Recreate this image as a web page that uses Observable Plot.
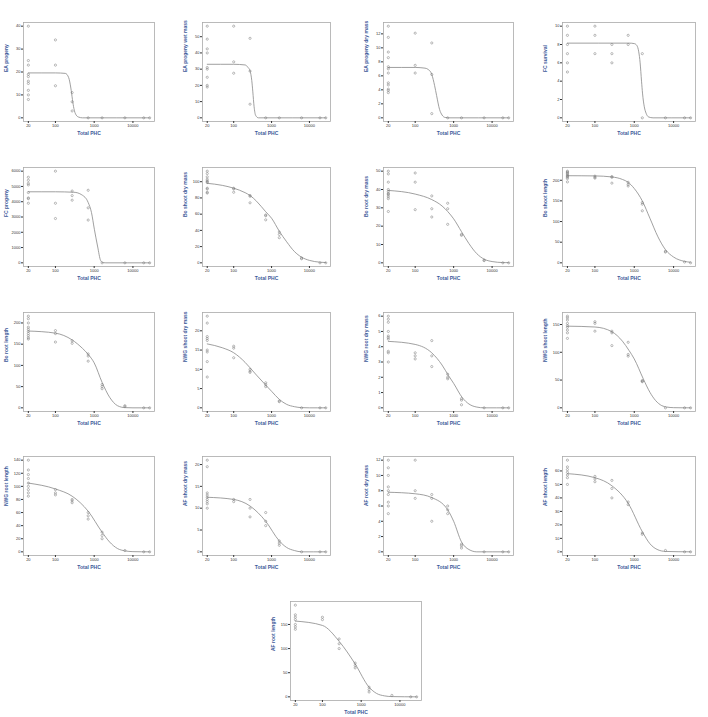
<!DOCTYPE html>
<html><head><meta charset="utf-8">
<script src="https://cdn.jsdelivr.net/npm/d3@7"></script>
<script src="https://cdn.jsdelivr.net/npm/@observablehq/plot@0.6"></script>
<style>
body{margin:0;background:#fff}
#wrap{position:relative;width:708px;height:717px;overflow:hidden;background:#fff}
</style></head>
<body><div id="wrap"></div>
<script>
// concentration levels (Total PHC) at which observations were made
const concLevels = [20, 100, 270, 700, 1600, 6200, 19000, 27000];
const xTicks = [20, 100, 1000, 10000];

const yLabels = ["EA progeny","EA progeny wet mass","EA progeny dry mass","FC survival",
  "FC progeny","Bo shoot dry mass","Bo root dry mass","Bo shoot length",
  "Bo root length","NWG shoot dry mass","NWG root dry mass","NWG shoot length",
  "NWG root length","AF shoot dry mass","AF root dry mass","AF shoot length","AF root length"];

const yTicks = [
  [0,10,20,30,40],[0,10,20,30,40,50],[0,2,4,6,8,10,12],[0,2,4,6,8,10],
  [0,1000,2000,3000,4000,5000,6000],[0,20,40,60,80,100],[0,10,20,30,40,50],[0,50,100,150,200],
  [0,50,100,150,200],[0,5,10,15,20],[0,1,2,3,4,5,6],[0,50,100,150],
  [0,20,40,60,80,100,120,140],[0,5,10,15,20],[0,2,4,6,8,10,12],[0,10,20,30,40,50,60],[0,50,100,150]
];

// observed values, one list per concentration level
const eaProgeny = [[40,25,23,19,18,16,15,12,10,8],[34,23,14],[11,7,3],[0],[0],[0],[0],[0]];
const eaWetMass = [[56.5,48.5,42.5,40,31,30,25,20,19],[56.5,34.5,27.5],[49,28.8,8.4],[0],[0],[0],[0],[0]];
const eaDryMass = [[13.1,11.5,9.4,8.6,7.3,7.0,6.4,5.0,4.7,4.1,3.9,3.6],[12.1,7.5,6.4],[10.7,6.2,0.6],[0],[0],[0],[0],[0]];
const fcSurvival = [[10,9,8,7,6,5],[10,9,7],[8,7,6],[9,8],[7,0],[0],[0],[0]];
const fcProgeny = [[5600,5400,5200,5100,4600,4250,4200,3900],[6000,3900,2900],[4700,4400,4100],[4750,3600,2800],[0],[0],[0],[0]];
const boShootDry = [[113,110,106,103,101,100,99,92,91,87,86],[92,91,87],[83,82,74],[59,58,53],[38,35,31],[6,5],[0],[0]];
const boRootDry = [[50,48.5,44,40,39,38,37.5,37,36,35,28],[49,44,29],[36.5,29.5,25],[32.5,29.5,21],[15.5,15],[1.5,1.2],[0],[0]];
const boShootLen = [[222,220,218,216,213,211,209,207,204,196],[210,207,205],[209,207,193],[195,190,186],[146,142,126],[28,26],[2],[0]];
const boRootLen = [[216,210,200,190,185,180,175,170,165,162],[182,175,155],[158,152],[127,122,110],[55,50,45],[5,3],[0],[0]];
const nwgShootDry = [[23.8,22,18.5,18,17.5,15,14.5,12,8],[16,15.5,13],[10,9.5,9.2],[6.5,6,5.5],[1.8,1.6],[0],[0],[0]];
const nwgRootDry = [[6.0,5.8,5.6,5.0,4.7,4.6,4.5,3.7,3.6,3.0],[3.6,3.4,3.2],[4.4,3.4,2.7],[2.2,2.0,1.9],[0.6,0.5,0.2],[0],[0],[0]];
const nwgShootLen = [[165,162,158,152,148,145,140,135,125],[155,152,138],[138,135,112],[118,96,93],[49,48,47],[0],[0],[0]];
const nwgRootLen = [[140,125,118,112,105,100,95,90,85],[95,90,87],[80,78,75],[60,55,50],[30,25,20],[2],[0],[0]];
const afShootDry = [[21,19.5,13.5,13,12.5,12,11.5,11,10],[12,11.5],[12,10,8],[9,7,6],[2.5,2,1.5],[0],[0],[0]];
const afRootDry = [[12,11,10,8.5,8,7.5,6.5,6,5],[12,8,7],[7.5,7,4],[6,5.5,5],[1,0.8,0.5],[0],[0],[0]];
const afShootLen = [[68,63,61,59,57,55,50],[56,54,52],[53,47,40],[37,35],[14,13],[1],[0],[0]];
const afRootLen = [[190,170,165,160,150,145,140],[165,160],[120,110,100],[70,65,60],[20,15,10],[3],[0],[0]];

// fitted dose-response curves: [Total PHC, value]
const eaProgenyFit = [[20,19.6],[100,19.6],[180,19.4],[220,17.5],[250,13],[275,8],[300,4],[340,1.3],[400,0.3],[500,0],[27000,0]];
const eaWetMassFit = [[20,33],[100,33],[200,32.6],[240,31],[270,29],[300,23],[320,16],[345,7],[380,1.5],[450,0],[27000,0]];
const eaDryMassFit = [[20,7.2],[100,7.2],[180,7.1],[220,6.9],[270,6.2],[320,4.6],[360,3.2],[430,1.2],[500,0.4],[600,0.05],[740,0],[27000,0]];
const fcSurvivalFit = [[20,8.15],[740,8.15],[1000,8.1],[1160,7.9],[1300,7.2],[1410,6],[1530,4],[1620,2.7],[1800,1.2],[2000,0.5],[2300,0.1],[3000,0],[27000,0]];
const fcProgenyFit = [[20,4650],[100,4650],[300,4620],[480,4450],[700,3950],[850,3300],[1010,2200],[1220,1100],[1470,150],[1700,10],[2000,0],[27000,0]];
const boShootDryFit = [[20,98],[50,95.5],[100,92],[200,86.5],[270,83],[400,76],[700,63],[1000,55],[1600,39],[2500,26],[4000,14],[6200,7],[10000,3],[19000,0.8],[27000,0.4]];
const boRootDryFit = [[20,39.5],[100,37.5],[270,34.5],[500,31],[700,28],[1000,24],[1600,17],[2500,10.5],[4000,5],[6200,2],[10000,0.7],[19000,0.15],[27000,0.1]];
const boShootLenFit = [[20,211],[100,210.5],[270,208],[500,202],[700,195],[1000,180],[1600,150],[2500,108],[4000,63],[6200,32],[10000,14],[19000,3.5],[27000,1.5]];
const boRootLenFit = [[20,181],[100,176],[270,160],[500,140],[700,126],[1000,106],[1600,60],[2500,25],[4000,5],[6200,0.5],[10000,0],[27000,0]];
const nwgShootDryFit = [[20,16.6],[50,15.6],[100,14.3],[200,11.8],[270,10.4],[400,8.5],[700,5.9],[1000,4.3],[1600,2.2],[2500,0.9],[4000,0.3],[6200,0.05],[10000,0],[27000,0]];
const nwgRootDryFit = [[20,4.35],[100,4.15],[270,3.6],[500,2.8],[740,2.1],[1000,1.6],[1700,0.65],[2500,0.25],[4000,0.05],[6200,0],[27000,0]];
const nwgShootLenFit = [[20,147],[100,145.5],[270,137],[500,120],[740,103],[1000,88],[1700,52],[2500,28],[3500,13],[5000,4],[6600,1.5],[10000,0.3],[27000,0]];
const nwgRootLenFit = [[20,105],[100,96],[270,85],[700,62],[1600,30],[2500,15],[4000,5],[6200,1.5],[10000,0.3],[27000,0]];
const afShootDryFit = [[20,12.5],[100,12],[270,10.5],[700,7],[1600,2.5],[2500,1],[4000,0.3],[6200,0],[27000,0]];
const afRootDryFit = [[20,7.8],[100,7.6],[270,7.1],[700,5.5],[1000,4],[1600,1.3],[2500,0.3],[4000,0],[27000,0]];
const afShootLenFit = [[20,58],[100,55],[270,49],[700,36],[1600,15],[2500,6],[4000,1.5],[6200,0.3],[27000,0]];
const afRootLenFit = [[20,157],[100,148],[270,115],[700,68],[1600,20],[2500,7],[4000,2],[6200,0.5],[27000,0]];

const allValues = [eaProgeny,eaWetMass,eaDryMass,fcSurvival,fcProgeny,boShootDry,boRootDry,boShootLen,
  boRootLen,nwgShootDry,nwgRootDry,nwgShootLen,nwgRootLen,afShootDry,afRootDry,afShootLen,afRootLen];
const allFits = [eaProgenyFit,eaWetMassFit,eaDryMassFit,fcSurvivalFit,fcProgenyFit,boShootDryFit,boRootDryFit,boShootLenFit,
  boRootLenFit,nwgShootDryFit,nwgRootDryFit,nwgShootLenFit,nwgRootLenFit,afShootDryFit,afRootDryFit,afShootLenFit,afRootLenFit];

// layout (plot box positions)
const cols = [[23,154],[202,330],[383,513],[562,695]];
const rows = [[22,121],[167,266],[312,411],[456,555],[601,700]];
const wrap = document.getElementById("wrap");
const labelColor = "#3d5a99";

function makePanel(k, [x0,x1], [y0,y1]) {
  const pts = allValues[k].flatMap((vs, i) => vs.map(v => ({x: concLevels[i], y: v})));
  const fit = allFits[k].map(([x,y]) => ({x, y}));
  const [ymin, ymax] = d3.extent(pts.map(d => d.y).concat(fit.map(d => d.y)));
  const yr = ymax - ymin;
  const [lmin, lmax] = d3.extent(concLevels.map(Math.log10));
  const lr = lmax - lmin;
  const ML = 30, MR = 4, MT = 4, MB = 22;
  const chart = Plot.plot({
    width: (x1 - x0) + ML + MR, height: (y1 - y0) + MT + MB,
    marginLeft: ML, marginRight: MR, marginTop: MT, marginBottom: MB,
    style: {fontFamily: "'Liberation Sans', Arial, sans-serif", background: "transparent", overflow: "visible", color: "#333"},
    x: {type: "log", domain: [10 ** (lmin - 0.04 * lr), 10 ** (lmax + 0.04 * lr)]},
    y: {domain: [ymin - 0.04 * yr, ymax + 0.04 * yr]},
    marks: [
      Plot.frame({stroke: "#aaa", strokeWidth: 0.8}),
      Plot.axisX({ticks: xTicks, tickFormat: d => String(d), tickSize: 2, tickPadding: 1, fontSize: 4, label: null}),
      Plot.axisY({ticks: yTicks[k], tickFormat: d => String(d), tickSize: 2, tickPadding: 1, fontSize: 4, label: null}),
      Plot.line(fit, {x: "x", y: "y", curve: "monotone-x", stroke: "#888", strokeWidth: 0.8}),
      Plot.dot(pts, {x: "x", y: "y", r: 1.1, stroke: "#777", strokeWidth: 0.5}),
      Plot.text([yLabels[k]], {frameAnchor: "left", dx: -17, rotate: -90, fill: labelColor, fontWeight: "bold", fontSize: 5}),
      Plot.text(["Total PHC"], {frameAnchor: "bottom", dy: 13, fill: labelColor, fontWeight: "bold", fontSize: 5})
    ]
  });
  chart.style.position = "absolute";
  chart.style.left = (x0 - ML) + "px";
  chart.style.top = (y0 - MT) + "px";
  wrap.appendChild(chart);
}

for (let k = 0; k < 16; k++) makePanel(k, cols[k % 4], rows[Math.floor(k / 4)]);
makePanel(16, [290, 421], rows[4]);
</script></body></html>
